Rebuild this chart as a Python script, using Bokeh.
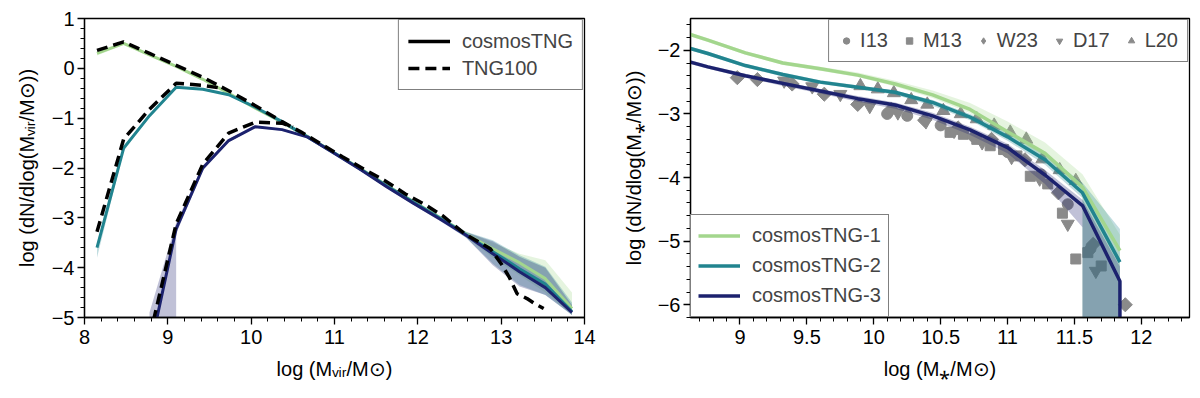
import math
import numpy as np
from bokeh.plotting import figure
from bokeh.layouts import row
from bokeh.models import Legend, LegendItem, FixedTicker, Range1d
from bokeh.embed import file_html
from bokeh.resources import INLINE

FONT = "Liberation Sans"
FS = "20px"
NEG = float("-inf")   # log10(0)
nan = float("nan")

C1, C2, C3 = "#a3d68d", "#21848f", "#1c226e"
GRAY = "#8a8a8a"
BAND_ALPHA = 0.28

# ---------------- left panel: halo mass function ----------------
halo_x = [8.15, 8.47, 8.78, 9.10, 9.42, 9.73, 10.05, 10.37, 10.68, 11.00,
          11.32, 11.63, 11.95, 12.27, 12.58, 12.90, 13.22, 13.53, 13.85]
hmf1 = [0.30, 0.50, 0.27, 0.04, -0.22, -0.50, -0.80, -1.08, -1.37, -1.70,
        -2.02, -2.35, -2.68, -3.00, -3.33, -3.62, -3.90, -4.22, -4.82]
hmf1_hi = [0.33, 0.52, 0.29, 0.06, -0.20, -0.48, -0.78, -1.06, -1.35, -1.68,
           -2.00, -2.33, -2.65, -2.97, -3.28, -3.50, -3.72, -3.85, -4.50]
hmf1_lo = [0.26, 0.47, 0.25, 0.02, -0.24, -0.52, -0.82, -1.10, -1.39, -1.72,
           -2.05, -2.38, -2.71, -3.04, -3.38, -3.80, -4.15, -4.50, -4.95]
hmf2 = [-3.60, -1.60, -0.95, -0.38, -0.42, -0.53, -0.78, -1.07, -1.38, -1.70,
        -2.03, -2.36, -2.69, -3.01, -3.34, -3.68, -4.02, -4.33, -4.88]
hmf2_hi = [-3.52, -1.55, -0.92, -0.36, -0.40, -0.51, -0.76, -1.05, -1.36, -1.68,
           -2.01, -2.34, -2.66, -2.97, -3.28, -3.45, -3.75, -3.98, -4.70]
hmf2_lo = [-3.80, -1.66, -0.98, -0.40, -0.44, -0.55, -0.80, -1.09, -1.40, -1.72,
           -2.06, -2.39, -2.72, -3.05, -3.40, -3.92, -4.35, -4.55, -4.95]
hmf3 = [nan, nan, -5.70, -3.22, -2.00, -1.45, -1.17, -1.23, -1.38, -1.71,
        -2.04, -2.38, -2.71, -3.03, -3.35, -3.72, -4.08, -4.40, -4.90]
hmf3_hi = [nan, nan, -4.90, -3.10, -1.95, -1.42, -1.15, -1.21, -1.36, -1.69,
           -2.02, -2.35, -2.68, -2.99, -3.29, -3.47, -3.78, -4.00, -4.75]
hmf3_lo = [nan, nan, NEG, -3.32, -2.05, -1.48, -1.19, -1.25, -1.40, -1.73,
           -2.06, -2.41, -2.74, -3.07, -3.40, -3.95, -4.38, -4.55, -4.95]

# TNG100 comparison (dashed)
tng_a_x = [8.15, 8.47, 8.78, 9.10, 9.42, 9.73, 10.05, 10.37, 10.60, 10.85, 11.10,
           11.35, 11.60, 11.85, 12.10, 12.30, 12.57, 12.75, 12.87, 13.00, 13.10,
           13.19, 13.31, 13.40, 13.51]
tng_a_y = [0.36, 0.53, 0.30, 0.06, -0.18, -0.45, -0.75, -1.07, -1.28, -1.53, -1.78,
           -2.02, -2.25, -2.52, -2.75, -2.96, -3.33, -3.50, -3.62, -3.92, -4.20,
           -4.52, -4.62, -4.72, -4.82]
tng_b_x = [8.15, 8.47, 8.78, 9.10, 9.42, 9.65]
tng_b_y = [-3.28, -1.42, -0.82, -0.30, -0.34, -0.40]
tng_c_x = [8.78, 9.10, 9.42, 9.73, 10.05, 10.37, 10.50]
tng_c_y = [-5.40, -3.12, -1.92, -1.30, -1.08, -1.10, -1.18]

# ---------------- right panel: stellar mass function ----------------
smf_x = [8.48, 8.76, 9.04, 9.32, 9.60, 9.88, 10.16, 10.44, 10.72, 11.00,
         11.28, 11.56, 11.84, 12.12]
smf1 = [-1.65, -1.84, -2.04, -2.20, -2.29, -2.39, -2.53, -2.70, -2.93, -3.28,
        -3.62, -4.15, -5.15, nan]
smf1_hi = [-1.62, -1.81, -2.01, -2.17, -2.26, -2.35, -2.48, -2.63, -2.83, -3.12,
           -3.45, -3.95, -4.90, nan]
smf1_lo = [-1.68, -1.87, -2.07, -2.23, -2.32, -2.42, -2.57, -2.75, -2.99, -3.35,
           -3.70, -4.25, NEG, nan]
smf2 = [-1.88, -2.05, -2.24, -2.38, -2.50, -2.58, -2.66, -2.82, -3.05, -3.36,
        -3.72, -4.24, -5.33, nan]
smf2_hi = [-1.85, -2.02, -2.21, -2.35, -2.47, -2.55, -2.63, -2.78, -3.00, -3.30,
           -3.64, -4.08, -4.81, nan]
smf2_lo = [-1.91, -2.08, -2.27, -2.41, -2.53, -2.61, -2.70, -2.87, -3.10, -3.42,
           -3.80, -4.32, NEG, nan]
smf3 = [-2.10, -2.26, -2.40, -2.52, -2.64, -2.76, -2.86, -3.03, -3.25, -3.53,
        -3.96, -4.44, -5.63, NEG]
smf3_hi = [-2.07, -2.23, -2.37, -2.49, -2.61, -2.72, -2.82, -2.98, -3.20, -3.47,
           -3.88, -4.35, -5.40, nan]
smf3_lo = [-2.13, -2.29, -2.43, -2.56, -2.68, -2.81, -2.92, -3.09, -3.33, -3.62,
           -4.10, -4.78, NEG, nan]

# observational data
i13_x = [10.10, 10.25, 10.50, 10.75, 11.00, 11.25, 11.45, 11.62]
i13_y = [-3.00, -3.03, -3.18, -3.36, -3.60, -3.95, -4.42, -5.12]
m13_x = [10.57, 10.67, 10.77, 10.87, 10.97, 11.07, 11.17, 11.30, 11.41, 11.51, 11.60, 11.70]
m13_y = [-3.29, -3.32, -3.40, -3.50, -3.56, -3.66, -3.98, -4.10, -4.56, -5.28, -5.18, -5.39]
w23_x = [8.98, 9.13, 9.39, 9.63, 9.88, 10.13, 10.38, 10.63, 10.88, 11.13, 11.38, 11.64, 11.88]
w23_y = [-2.43, -2.46, -2.53, -2.69, -2.85, -2.93, -3.10, -3.22, -3.40, -3.72, -4.24, -5.05, -6.00]
d17_x = [9.33, 9.54, 9.75, 9.97, 10.18, 10.39, 10.60, 10.81, 11.03, 11.24, 11.45, 11.66]
d17_y = [-2.48, -2.57, -2.69, -2.88, -2.98, -3.12, -3.27, -3.45, -3.68, -4.02, -4.73, -5.47]
l20_x = [9.90, 10.03, 10.15, 10.28, 10.40, 10.52, 10.65, 10.77, 10.90, 11.02, 11.14, 11.26, 11.39, 11.51]
l20_y = [-2.56, -2.61, -2.67, -2.78, -2.85, -2.95, -3.00, -3.08, -3.18, -3.29, -3.40, -3.71, -3.88, -4.05]

# tick labels
left_xticks = [8, 9, 10, 11, 12, 13, 14]
left_yticks = [-5, -4, -3, -2, -1, 0, 1]
right_xticks = [9, 9.5, 10, 10.5, 11, 11.5, 12]
right_yticks = [-6, -5, -4, -3, -2]


def fmt(v):
    s = ("%g" % v)
    return s.replace("-", "\u2212")


def line_path(x, y, bottom):
    """-inf values drop vertically from the previous finite point."""
    X, Y = [], []
    for xi, v in zip(x, y):
        if v is None or (isinstance(v, float) and math.isnan(v)):
            continue
        if v == NEG:
            if Y and Y[-1] != bottom:
                X.append(X[-1]); Y.append(bottom)
        else:
            if Y and Y[-1] == bottom:
                X.append(xi); Y.append(bottom)
            X.append(xi); Y.append(v)
    return X, Y


def band_path(x, hi, lo, bottom):
    X, H, L = [], [], []
    for xi, h, l in zip(x, hi, lo):
        if math.isnan(h):
            continue
        if l == NEG:
            if X and L[-1] != bottom:
                X.append(X[-1]); H.append(H[-1]); L.append(bottom)
            X.append(xi); H.append(h); L.append(bottom)
        else:
            if X and L[-1] == bottom:
                X.append(xi); H.append(h); L.append(bottom)
            X.append(xi); H.append(h); L.append(l)
    return X, H, L


def make_fig(width, xr, yr, border_left, border_right, xlabel, ylabel,
             xticks, xminor, yticks, yminor):
    p = figure(width=width, height=388, x_range=Range1d(*xr), y_range=Range1d(*yr),
               output_backend="svg", toolbar_location=None,
               min_border_left=border_left, min_border_right=border_right,
               min_border_top=18, min_border_bottom=71)
    p.grid.visible = False
    p.outline_line_color = "black"
    p.outline_line_width = 1.3
    p.background_fill_color = "white"
    p.border_fill_color = "white"
    p.xaxis.ticker = FixedTicker(ticks=xticks, minor_ticks=xminor)
    p.yaxis.ticker = FixedTicker(ticks=yticks, minor_ticks=yminor)
    p.xaxis.major_label_overrides = {t: fmt(t) for t in xticks}
    p.yaxis.major_label_overrides = {t: fmt(t) for t in yticks}
    p.xaxis.axis_label = xlabel
    p.yaxis.axis_label = ylabel
    for ax in (p.xaxis[0], p.yaxis[0]):
        ax.axis_line_color = "black"
        ax.axis_line_width = 1.3
        ax.major_tick_line_color = "black"
        ax.minor_tick_line_color = "black"
        ax.major_tick_line_width = 1.3
        ax.minor_tick_line_width = 1.0
        ax.major_tick_in = 0
        ax.major_tick_out = 7
        ax.minor_tick_in = 0
        ax.minor_tick_out = 4
        ax.major_label_text_font = FONT
        ax.major_label_text_font_size = FS
        ax.major_label_text_color = "black"
        ax.axis_label_text_font = FONT
        ax.axis_label_text_font_size = FS
        ax.axis_label_text_font_style = "normal"
        ax.axis_label_text_color = "black"
    p.xaxis.major_label_standoff = 5
    p.xaxis.axis_label_standoff = 11
    p.yaxis.major_label_standoff = 3
    p.yaxis.axis_label_standoff = 11
    return p


# ---------------- left figure ----------------
L_Y = (-5, 1)
p1 = make_fig(600, (8, 14), L_Y, 84, 16,
              "log (M\u1d65\u1d62\u1d63/M\u2299)",
              "log (dN/dlog(M\u1d65\u1d62\u1d63/M\u2299))",
              left_xticks, list(np.round(np.arange(8, 14.001, 0.2), 3)),
              left_yticks, list(np.round(np.arange(-5, 1.001, 0.2), 3)))
lb = L_Y[0] - 0.5
for (hi, lo, c) in ((hmf1_hi, hmf1_lo, C1), (hmf2_hi, hmf2_lo, C2), (hmf3_hi, hmf3_lo, C3)):
    X, H, Lw = band_path(halo_x, hi, lo, lb)
    p1.varea(x=X, y1=Lw, y2=H, fill_color=c, fill_alpha=BAND_ALPHA)
for (yv, c) in ((hmf1, C1), (hmf2, C2), (hmf3, C3)):
    X, Y = line_path(halo_x, yv, lb)
    p1.line(X, Y, line_color=c, line_width=3)
tng_lines = []
for (xv, yv) in ((tng_a_x, tng_a_y), (tng_b_x, tng_b_y), (tng_c_x, tng_c_y)):
    tng_lines.append(p1.line(xv, yv, line_color="black", line_width=3.5, line_dash="11 6"))

# legend-only renderer for the line style of cosmosTNG
r_solid = p1.line([nan, nan], [nan, nan], line_color="black", line_width=3.5)
leg1 = Legend(items=[LegendItem(label="cosmosTNG", renderers=[r_solid]),
                     LegendItem(label="TNG100", renderers=[tng_lines[0]])],
              location="top_right", margin=1, padding=9, spacing=3,
              glyph_width=42, glyph_height=24, label_height=24, label_standoff=12,
              label_text_font=FONT, label_text_font_size=FS,
              border_line_color="black", border_line_width=1.2,
              background_fill_alpha=1.0)
p1.add_layout(leg1)

# ---------------- right figure ----------------
R_Y = (-6.2, -1.5)
p2 = make_fig(592, (8.63, 12.36), R_Y, 90, 3,
              "log (M\u204e/M\u2299)",
              "log (dN/dlog(M\u204e/M\u2299))",
              right_xticks, list(np.round(np.arange(8.7, 12.36, 0.1), 3)),
              right_yticks, list(np.round(np.arange(-6.2, -1.49, 0.2), 3)))
p2.yaxis.axis_label_standoff = 10
rb = R_Y[0] - 0.5

mk = dict(fill_color=GRAY, line_color=GRAY, fill_alpha=1.0)
r_i13 = p2.scatter(i13_x, i13_y, marker="circle", size=11, **mk)
r_m13 = p2.scatter(m13_x, m13_y, marker="square", size=10, **mk)
r_w23 = p2.scatter(w23_x, w23_y, marker="square", angle=math.pi / 4, size=10, **mk)
r_d17 = p2.scatter(d17_x, d17_y, marker="inverted_triangle", size=13, **mk)
r_l20 = p2.scatter(l20_x, l20_y, marker="triangle", size=13, **mk)
# legend-only renderer showing the diamond symbol
r_w23_key = p2.scatter([nan], [nan], marker="diamond", size=12, **mk)

for (hi, lo, c) in ((smf1_hi, smf1_lo, C1), (smf2_hi, smf2_lo, C2), (smf3_hi, smf3_lo, C3)):
    X, H, Lw = band_path(smf_x, hi, lo, rb)
    p2.varea(x=X, y1=Lw, y2=H, fill_color=c, fill_alpha=BAND_ALPHA)
lines2 = []
for (yv, c) in ((smf1, C1), (smf2, C2), (smf3, C3)):
    X, Y = line_path(smf_x, yv, rb)
    lines2.append(p2.line(X, Y, line_color=c, line_width=3.5))

leg2 = Legend(items=[LegendItem(label="cosmosTNG-1", renderers=[lines2[0]]),
                     LegendItem(label="cosmosTNG-2", renderers=[lines2[1]]),
                     LegendItem(label="cosmosTNG-3", renderers=[lines2[2]])],
              location="bottom_left", margin=0, padding=7, spacing=3,
              glyph_width=42, glyph_height=27, label_height=27, label_standoff=12,
              label_text_font=FONT, label_text_font_size=FS,
              border_line_color="black", border_line_width=1.2,
              background_fill_alpha=1.0)
p2.add_layout(leg2)

leg3 = Legend(items=[LegendItem(label="I13", renderers=[r_i13]),
                     LegendItem(label="M13", renderers=[r_m13]),
                     LegendItem(label="W23", renderers=[r_w23_key]),
                     LegendItem(label="D17", renderers=[r_d17]),
                     LegendItem(label="L20", renderers=[r_l20])],
              location="top_right", orientation="horizontal", margin=1,
              padding=9, spacing=13, glyph_width=16, glyph_height=21,
              label_height=21, label_standoff=6,
              label_text_font=FONT, label_text_font_size=FS,
              border_line_color="black", border_line_width=1.2,
              background_fill_alpha=1.0)
p2.add_layout(leg3)

layout = row(p1, p2)
open("out.html", "w").write(file_html(layout, INLINE))
